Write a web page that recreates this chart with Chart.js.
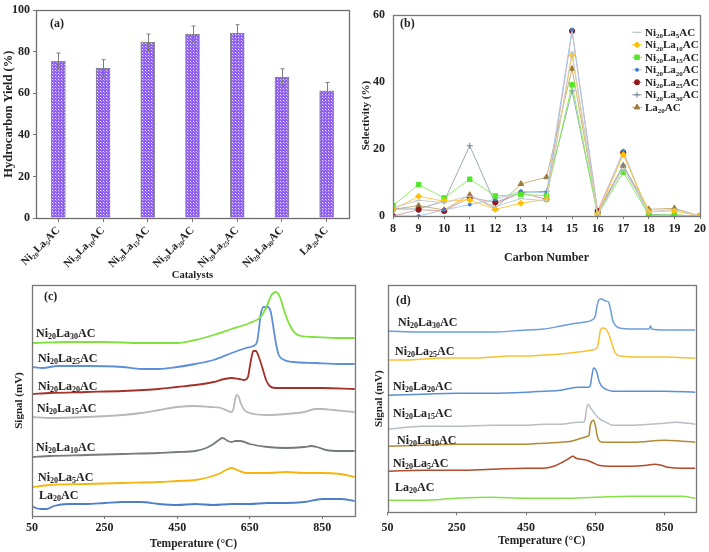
<!DOCTYPE html>
<html><head><meta charset="utf-8">
<script src="https://cdn.jsdelivr.net/npm/chart.js@4.4.1/dist/chart.umd.min.js"></script>
<style>
html,body{margin:0;padding:0;background:#fff;width:709px;height:552px;overflow:hidden}
.p{position:absolute}
</style></head><body>
<div class="p" style="left:0;top:0;width:355px;height:282px"><canvas id="ca"></canvas></div>
<div class="p" style="left:350px;top:0;width:359px;height:282px"><canvas id="cb"></canvas></div>
<div class="p" style="left:0;top:282px;width:360px;height:270px"><canvas id="cc"></canvas></div>
<div class="p" style="left:360px;top:282px;width:349px;height:270px"><canvas id="cd"></canvas></div>
<script>
// ---------------- DATA ----------------
// (a) hydrocarbon yield
const catalysts = ['Ni₂₀La₅AC','Ni₂₀La₁₀AC','Ni₂₀La₁₅AC','Ni₂₀La₂₀AC','Ni₂₀La₂₅AC','Ni₂₀La₃₀AC','La₂₀AC'];
const yieldVals = [75.4, 72.2, 84.5, 88.4, 89.0, 67.8, 61.2];
const yieldErr  = [4, 4, 4, 4, 4, 4, 4];
const yieldTicks = [0, 20, 40, 60, 80, 100];

// (b) selectivity vs carbon number
const carbonNumbers = [8,9,10,11,12,13,14,15,16,17,18,19,20];
const selSeriesNames = ['Ni₂₀La₅AC','Ni₂₀La₁₀AC','Ni₂₀La₁₅AC','Ni₂₀La₂₀AC','Ni₂₀La₂₅AC','Ni₂₀La₃₀AC','La₂₀AC'];
const selNi20La5  = [2.5, 4.7, 4.0, 6.0, 2.8, 5.2, 4.5, 49.0, 0.3, 14.0, 1.2, 2.0, 0];
const selNi20La10 = [1.9, 5.9, 4.4, 4.8, 2.0, 3.8, 5.0, 48.0, 0.5, 18.3, 1.3, 1.5, 0];
const selNi20La15 = [3.1, 9.4, 5.4, 11.0, 6.0, 6.4, 6.1, 39.2, 0.3, 13.1, 0.3, 0.3, 0];
const selNi20La20 = [0, 0, 1.8, 3.4, 5.0, 7.4, 6.9, 55.7, 0.2, 19.5, 0, 0, 0];
const selNi20La25 = [0, 1.9, 1.5, 5.5, 4.1, 6.9, 5.0, 55.3, 1.5, 19.0, 0, 0, 0];
const selNi20La30 = [2.1, 2.1, 4.4, 21.0, 3.6, 7.0, 7.4, 37.4, 0.5, 15.2, 0.5, 0.3, 0];
const selLa20     = [2.0, 3.1, 1.8, 6.3, 2.2, 9.6, 11.6, 44.0, 1.3, 15.0, 2.0, 2.3, 0];
const selTicks = [0, 20, 40, 60];

// (c) / (d) TPR profiles: temperature (°C) and signal (arbitrary, offset curves)
const tempTicks = [50, 250, 450, 650, 850];
const tprNames = ['Ni₂₀La₃₀AC','Ni₂₀La₂₅AC','Ni₂₀La₂₀AC','Ni₂₀La₁₅AC','Ni₂₀La₁₀AC','Ni₂₀La₅AC','La₂₀AC'];

const c30T = [50,150,250,350,450,500,550,600,650,680,696,710,722,733,746,760,774,792,824,888,939];
const c30S = [173,174,174,173,173,176,181,187,193,199,209,221,224,219,204,191,183,180,179,178,178];
const c25T = [50,80,120,200,300,350,400,450,500,550,600,640,660,670,675,680,688,700,708,715,722,730,745,770,830,900,939];
const c25S = [149,148,150,150,149,147,147,149,152,156,163,168,170,174,186,201,209,209,204,189,173,161,156,154,153,152,152];
const c20T = [50,100,200,300,400,450,500,550,580,600,620,635,645,650,655,660,667,675,685,695,705,720,760,850,939];
const c20S = [122,123,124,125,127,129,131,134,137,138,137,136,139,149,159,165,165,159,148,136,130,128,128,128,127];
const c15T = [50,100,200,300,350,400,450,500,540,570,590,600,605,610,615,620,625,635,650,700,750,800,830,850,880,939];
const c15S = [99,98,99,101,103,106,109,110,109,108,105,104,107,117,121,119,113,106,103,101,102,104,107,107,106,104];
const c10T = [50,100,200,300,400,450,500,530,550,565,575,590,600,610,625,650,700,750,800,820,835,860,900,939];
const c10S = [59,60,61,62,63,64,65,68,72,76,78,75,74,75,75,72,69,68,69,70,69,66,65,65];
const c5T  = [50,100,200,300,400,450,500,540,570,590,600,615,640,660,700,750,800,850,900,939];
const c5S  = [29,31,32,33,34,35,36,39,43,47,48,46,43,43,43,44,43,43,42,39];
const cLaT = [50,60,75,90,110,150,200,250,300,350,400,450,500,550,600,650,700,750,800,850,880,900,939];
const cLaS = [10,8,7,7,10,12,12,13,14,14,12,11,12,11,12,12,13,13,14,17,17,17,15];

const d30T = [50,150,250,350,450,500,550,600,620,640,650,655,660,668,680,688,695,700,710,720,760,805,810,813,850,939];
const d30S = [181,180,180,180,182,183,186,189,190,192,196,206,212,213,211,210,201,192,186,184,183,183,186,183,182,182];
const d25T = [50,100,150,200,250,300,350,400,450,500,550,600,640,655,660,665,672,680,690,700,710,725,760,850,939];
const d25S = [152,152,153,154,154,154,155,156,156,157,158,160,162,164,172,182,184,183,177,166,158,156,155,155,154];
const d20T = [50,150,250,350,450,500,550,580,600,620,630,635,640,645,650,655,660,668,680,700,760,850,939];
const d20S = [117,118,119,119,120,121,122,124,125,125,125,126,136,144,143,139,132,126,123,121,121,121,120];
const d15T = [50,150,250,350,450,500,550,600,615,620,625,630,635,645,660,680,700,760,850,880,939];
const d15S = [83,86,86,87,87,88,88,90,90,92,104,108,105,100,94,90,87,87,89,90,88];
const d10T = [50,150,250,350,450,500,550,580,600,620,628,632,635,640,645,650,655,660,670,700,760,850,900,939];
const d10S = [66,67,68,68,68,69,70,71,73,75,76,77,86,91,92,87,77,72,70,70,70,72,71,70];
const d5T  = [50,150,250,350,450,500,530,555,575,585,595,610,625,640,660,700,750,800,820,840,860,900,939];
const d5S  = [41,42,42,43,44,44,46,50,54,56,54,53,52,50,47,46,46,47,48,47,45,44,44];
const dLaT = [50,150,250,350,450,550,650,750,850,900,939];
const dLaS = [12,12,14,15,14,14,15,16,16,16,14];

// ---------------- HELPERS ----------------
const FAM = "'Liberation Serif','Times New Roman',serif";
Chart.defaults.font.family = FAM;
Chart.defaults.font.weight = 'bold';
Chart.defaults.color = '#222';
Chart.defaults.animation = false;

const SUBS = '₀₁₂₃₄₅₆₇₈₉';
function toRich(s){
  let out=''; let inSub=false;
  for(const ch of s){
    const k=SUBS.indexOf(ch);
    if(k>=0){ if(!inSub){out+='{';inSub=true;} out+=k; }
    else { if(inSub){out+='}';inSub=false;} out+=ch; }
  }
  if(inSub) out+='}';
  return out;
}
function drawRich(ctx, s, x, yc, size){
  const re=/([^{]+)|\{([^}]*)\}/g; let m; let cx=x;
  const y = yc + size*0.33;
  ctx.textAlign='left'; ctx.textBaseline='alphabetic';
  while((m=re.exec(s))){
    if(m[1]!==undefined){ ctx.font=`bold ${size}px ${FAM}`; ctx.fillText(m[1],cx,y); cx+=ctx.measureText(m[1]).width; }
    else { const ss=Math.round(size*0.66); ctx.font=`bold ${ss}px ${FAM}`; ctx.fillText(m[2],cx,y+size*0.2); cx+=ctx.measureText(m[2]).width; }
  }
}
function framePlugin(color){
  return {id:'frame', afterDraw(chart){
    const a=chart.chartArea, ctx=chart.ctx; ctx.save();
    ctx.strokeStyle=color; ctx.lineWidth=1.3;
    ctx.strokeRect(Math.round(a.left)+0.5, Math.round(a.top)+0.5, Math.round(a.right-a.left), Math.round(a.bottom-a.top));
    ctx.restore();
  }};
}
function textPlugin(items){
  return {id:'texts', afterDraw(chart){
    const ctx=chart.ctx; ctx.save(); ctx.fillStyle='#222';
    for(const it of items) drawRich(ctx, it.t, it.x, it.y, it.s);
    ctx.restore();
  }};
}
function fixedTicks(vals){ return function(s){ s.ticks = vals.map(v=>({value:v})); }; }

// ---------------- (a) ----------------
function makePattern(){
  const c=document.createElement('canvas'); c.width=3; c.height=3;
  const g=c.getContext('2d');
  g.fillStyle='#8f5ef4'; g.fillRect(0,0,3,3);
  g.fillStyle='#ece4ff'; g.fillRect(1,1,1,1);
  g.fillStyle='#b79cf8'; g.fillRect(2,2,1,1);
  return g.createPattern(c,'repeat');
}
const errPlugin = {id:'err', afterDatasetsDraw(chart){
  const ctx=chart.ctx, ys=chart.scales.y, meta=chart.getDatasetMeta(0);
  ctx.save(); ctx.strokeStyle='#7d7d7d'; ctx.lineWidth=1;
  meta.data.forEach((bar,i)=>{
    const x=Math.round(bar.x)+0.5;
    const t=ys.getPixelForValue(yieldVals[i]+yieldErr[i]);
    const b=ys.getPixelForValue(yieldVals[i]-yieldErr[i]);
    ctx.beginPath(); ctx.moveTo(x,t); ctx.lineTo(x,b);
    ctx.moveTo(x-2,t); ctx.lineTo(x+2,t); ctx.moveTo(x-2,b); ctx.lineTo(x+2,b); ctx.stroke();
  });
  ctx.restore();
}};
new Chart(document.getElementById('ca'), {
  type:'bar',
  data:{labels:catalysts, datasets:[{data:yieldVals, backgroundColor:makePattern(), borderColor:'#8a8a8a', borderWidth:1, barThickness:14}]},
  options:{responsive:true, maintainAspectRatio:false, animation:false,
    layout:{padding:{top:6,right:6,left:0,bottom:0}},
    plugins:{legend:{display:false}, tooltip:{enabled:false}},
    scales:{
      x:{grid:{display:true,drawOnChartArea:false,offset:false,tickLength:4,color:'#777'}, border:{display:false},
         ticks:{minRotation:45,maxRotation:45,autoSkip:false,font:{size:11,weight:'bold'},color:'#222',padding:2},
         title:{display:true,text:'Catalysts',font:{size:10.5,weight:'bold'},color:'#222',padding:{top:0,bottom:0}},
         afterFit(s){s.height=64;}},
      y:{min:0,max:100, afterBuildTicks:fixedTicks(yieldTicks),
         ticks:{font:{size:12,weight:'bold'},color:'#222',padding:3},
         grid:{display:true,drawOnChartArea:false,tickLength:3,color:'#777'}, border:{display:false},
         title:{display:true,text:'Hydrocarbon Yield (%)',font:{size:12.5,weight:'bold'},color:'#222',padding:{top:1,bottom:0}},
         afterFit(s){s.width=36;}}
    }},
  plugins:[framePlugin('#6e6e6e'), errPlugin, textPlugin([{t:'(a)',x:50,y:23,s:12}])]
});

// ---------------- (b) ----------------
const selData = [selNi20La5, selNi20La10, selNi20La15, selNi20La20, selNi20La25, selNi20La30, selLa20];
const selStyle = [
  {line:'#c5ccd1', pt:'#b8c0c6', ps:'line', r:3},
  {line:'#ffcc44', pt:'#ffc000', ps:'rectRot', r:3},
  {line:'#8cf060', pt:'#55e62a', ps:'rect', r:3.2},
  {line:'#a9cbea', pt:'#3d7fd0', ps:'circle', r:1.5},
  {line:'#d9a3a0', pt:'#8e1a1a', ps:'circle', r:2.6},
  {line:'#9aabb8', pt:'#6f8495', ps:'cross', r:3},
  {line:'#cdb07a', pt:'#9c7a3a', ps:'triangle', r:3.2}
];
const legendPlugin = {id:'leg', afterDraw(chart){
  const ctx=chart.ctx; ctx.save();
  const x0=282, y0=32.3, dy=12.5;
  selSeriesNames.forEach((n,i)=>{
    const st=selStyle[i], y=y0+i*dy;
    ctx.strokeStyle=st.line; ctx.lineWidth=1;
    ctx.beginPath(); ctx.moveTo(x0,y); ctx.lineTo(x0+10,y); ctx.stroke();
    ctx.fillStyle=st.pt; ctx.strokeStyle=st.pt;
    Chart.helpers.drawPoint(ctx,{pointStyle:st.ps,radius:st.r,rotation:0,borderWidth:1},x0+5,y);
    ctx.fillStyle='#222';
    drawRich(ctx, toRich(n), x0+13, y, 11);
  });
  ctx.restore();
}};
new Chart(document.getElementById('cb'), {
  type:'line',
  data:{labels:carbonNumbers, datasets:selData.map((d,i)=>({
    label:selSeriesNames[i], data:carbonNumbers.map((c,j)=>({x:c,y:d[j]})),
    borderColor:selStyle[i].line, borderWidth:1, tension:0,
    pointStyle:selStyle[i].ps, pointRadius:selStyle[i].r,
    pointBackgroundColor:selStyle[i].pt, pointBorderColor:selStyle[i].pt, pointBorderWidth:1
  }))},
  options:{responsive:true, maintainAspectRatio:false, animation:false,
    layout:{padding:{top:6,right:7,left:0,bottom:0}},
    plugins:{legend:{display:false}, tooltip:{enabled:false}},
    scales:{
      x:{type:'linear',min:8,max:20, afterBuildTicks:fixedTicks(carbonNumbers),
         grid:{display:true,drawOnChartArea:false,tickLength:3,color:'#777'}, border:{display:false},
         ticks:{font:{size:12,weight:'bold'},color:'#222',padding:3},
         title:{display:true,text:'Carbon Number',font:{size:12,weight:'bold'},color:'#222',padding:{top:0,bottom:17}},
         afterFit(s){s.height=66;}},
      y:{min:0,max:60, afterBuildTicks:fixedTicks(selTicks),
         grid:{display:true,drawOnChartArea:false,drawTicks:false,tickLength:0,color:'#777'}, border:{display:false},
         ticks:{font:{size:12,weight:'bold'},color:'#222',padding:8},
         title:{display:true,text:'Selectivity (%)',font:{size:11,weight:'bold'},color:'#222',padding:{top:10,bottom:0}},
         afterFit(s){s.width=43;}}
    }},
  plugins:[framePlugin('#777'), legendPlugin, textPlugin([{t:'(b)',x:50,y:23,s:12}])]
});

// ---------------- (c) & (d) ----------------
function tprChart(id, curves, colors, yMax, w, pad, xH, xTitlePad, tickPad, labels, letter, lw){
  new Chart(document.getElementById(id), {
    type:'line',
    data:{datasets:curves.map((c,i)=>({
      label:tprNames[i], data:c[0].map((t,j)=>({x:t,y:c[1][j]})),
      borderColor:colors[i], borderWidth:lw, pointRadius:0, cubicInterpolationMode:'monotone'
    }))},
    options:{responsive:true, maintainAspectRatio:false, animation:false,
      layout:{padding:pad},
      plugins:{legend:{display:false}, tooltip:{enabled:false}},
      scales:{
        x:{type:'linear',min:50,max:940, afterBuildTicks:fixedTicks(tempTicks),
           grid:{display:true,drawOnChartArea:false,tickLength:3,color:'#777'}, border:{display:false},
           ticks:{font:{size:12,weight:'bold'},color:'#222',padding:tickPad},
           title:{display:true,text:'Temperature (°C)',font:{size:11.5,weight:'bold'},color:'#222',padding:{top:0,bottom:xTitlePad}},
           afterFit(s){s.height=xH;}},
        y:{min:0,max:yMax, ticks:{display:false}, grid:{display:false}, border:{display:false},
           title:{display:true,text:'Signal (mV)',font:{size:11,weight:'bold'},color:'#222',padding:{top:13,bottom:0}},
           afterFit(s){s.width=w;}}
      }},
    plugins:[framePlugin('#777'), textPlugin(labels.concat([letter]))]
  });
}
tprChart('cc',
  [[c30T,c30S],[c25T,c25S],[c20T,c20S],[c15T,c15S],[c10T,c10S],[c5T,c5S],[cLaT,cLaS]],
  ['#7ee23c','#5d90d8','#a3332a','#b8b8b8','#737b7b','#f4b50c','#4c7fc8'],
  231, 32, {top:3,right:5,left:0,bottom:0}, 36, 1.4, 2,
  [{y:51,x:36},{y:76,x:38},{y:104,x:38},{y:126,x:37},{y:165,x:36},{y:195,x:38},{y:213,x:39}].map((p,i)=>({t:toRich(tprNames[i]),x:p.x,y:p.y,s:12})),
  {t:'(c)',x:44,y:14,s:12}, 1.8);
tprChart('cd',
  [[d30T,d30S],[d25T,d25S],[d20T,d20S],[d15T,d15S],[d10T,d10S],[d5T,d5S],[dLaT,dLaS]],
  ['#6b9ddb','#f7c133','#5a8fd6','#b6bec6','#b08a35','#b14a2a','#86e04a'],
  227, 27.6, {top:3,right:13.3,left:0,bottom:0}, 39.7, 4.4, 5,
  [{y:40,x:38},{y:69,x:35},{y:104,x:33},{y:131,x:33},{y:158,x:37},{y:181,x:33},{y:205,x:35}].map((p,i)=>({t:toRich(tprNames[i]),x:p.x,y:p.y,s:12})),
  {t:'(d)',x:36,y:18,s:12}, 1.5);
</script>
</body></html>
